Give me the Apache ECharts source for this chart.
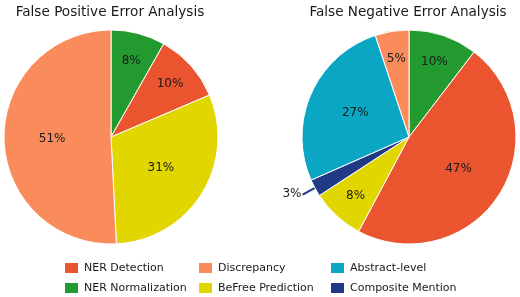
<!DOCTYPE html>
<html>
<head>
<meta charset="utf-8">
<script src="https://cdn.jsdelivr.net/npm/echarts@6/dist/echarts.min.js"></script>
<style>
  html, body { margin: 0; padding: 0; background: #fff; }
  #chart { width: 520px; height: 297px; }
</style>
</head>
<body>
<div id="chart"></div>
<script>
// slices listed clockwise from 12 o'clock
const fpNames = ['NER Normalization', 'NER Detection', 'BeFree Prediction', 'Discrepancy']
const fpValues = [8.2, 10.4, 30.6, 50.8]

const fnNames = ['NER Normalization', 'NER Detection', 'BeFree Prediction', 'Composite Mention', 'Abstract-level', 'Discrepancy']
const fnValues = [10.4, 47.4, 8.0, 2.6, 26.5, 5.1]

const colors = {
  'NER Detection': '#ea5530',
  'Discrepancy': '#fa8b5a',
  'Abstract-level': '#0ba6c3',
  'NER Normalization': '#229a2f',
  'BeFree Prediction': '#e2d600',
  'Composite Mention': '#203a85'
}

const legendCols = [
  ['NER Detection', 'NER Normalization'],
  ['Discrepancy', 'BeFree Prediction'],
  ['Abstract-level', 'Composite Mention']
]

const font = 'DejaVu Sans'
const R = 107
const centers = [[111, 137], [409, 137]]
const allValues = [fpValues, fnValues]

function toData(names, values) {
  return names.map((n, i) => {
    const item = { name: n, value: values[i], itemStyle: { color: colors[n] } }
    if (n === 'Composite Mention') {
      // tiny slice: label sits outside with a short leader line
      item.label = { position: 'outside', distanceToLabelLine: 1 }
      item.labelLine = { show: true, length: 13, length2: 1, lineStyle: { color: colors[n], width: 2 } }
    }
    return item
  })
}

function pieSeries(names, values, c) {
  return {
    type: 'pie',
    radius: R,
    center: c,
    startAngle: 90,
    clockwise: true,
    avoidLabelOverlap: false,
    animation: false,
    itemStyle: { borderColor: '#fff', borderWidth: 1 },
    label: {
      show: true,
      position: 'inner',
      color: '#1a1a1a',
      fontFamily: font,
      fontSize: 12,
      formatter: p => Math.round(p.value) + '%'
    },
    labelLine: { show: false },
    emphasis: { disabled: true },
    data: toData(names, values)
  }
}

// push labels of thin slices further out, like the original
function labelLayout(params) {
  const vals = allValues[params.seriesIndex]
  const i = params.dataIndex
  const total = vals.reduce((a, b) => a + b, 0)
  const pct = vals[i] / total
  if (pct < 0.04) return {}
  const before = vals.slice(0, i).reduce((a, b) => a + b, 0) / total
  const mid = (before + pct / 2) * Math.PI * 2
  const d = pct < 0.15 ? 0.74 * R : 0.55 * R
  const c = centers[params.seriesIndex]
  return {
    x: c[0] + d * Math.sin(mid),
    y: c[1] - d * Math.cos(mid),
    align: 'center',
    verticalAlign: 'middle'
  }
}

const legendLeft = [63, 197, 329]
const legends = []
legendCols.forEach((col, ci) => {
  col.forEach((name, ri) => {
    legends.push({
      left: legendLeft[ci],
      top: 261 + ri * 20,
      itemWidth: 15,
      itemHeight: 12,
      icon: 'rect',
      selectedMode: false,
      padding: 0,
      textStyle: { fontFamily: font, fontSize: 11, color: '#1a1a1a' },
      data: [name]
    })
  })
})

const chart = echarts.init(document.getElementById('chart'))
const series = [
  pieSeries(fpNames, fpValues, centers[0]),
  pieSeries(fnNames, fnValues, centers[1])
]
series.forEach(s => { s.labelLayout = labelLayout })

chart.setOption({
  backgroundColor: '#fff',
  title: [
    {
      text: 'False Positive Error Analysis',
      left: 105, top: 0, textAlign: 'center',
      textStyle: { fontFamily: font, fontSize: 13.6, fontWeight: 'normal', color: '#1a1a1a' }
    },
    {
      text: 'False Negative Error Analysis',
      left: 403, top: 0, textAlign: 'center',
      textStyle: { fontFamily: font, fontSize: 13.6, fontWeight: 'normal', color: '#1a1a1a' }
    }
  ],
  legend: legends,
  series: series
})
</script>
</body>
</html>
